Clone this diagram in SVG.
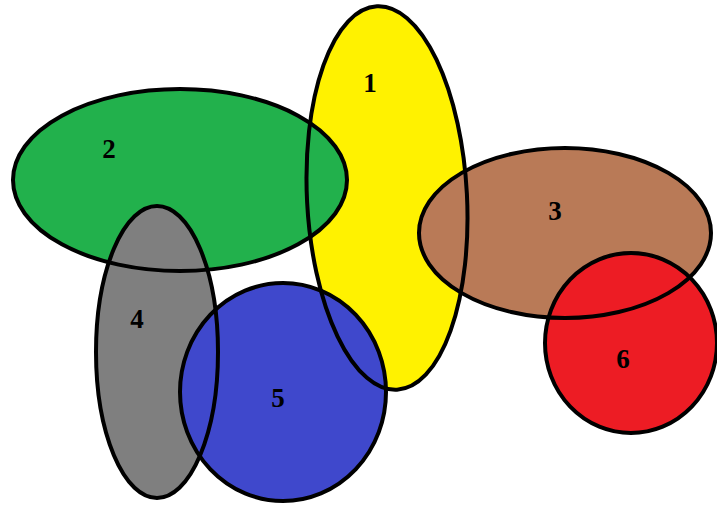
<svg xmlns="http://www.w3.org/2000/svg" width="717" height="506" viewBox="0 0 717 506">
<style>
.o{fill:none;stroke:#000;stroke-width:4}
.t{font-family:"Liberation Serif",serif;font-weight:bold;font-size:27px;fill:#000;text-anchor:middle}
</style>
<rect width="717" height="506" fill="#fff"/>
<g id="fills">
<ellipse cx="387" cy="198" rx="80" ry="192" transform="rotate(-3 387 198)" fill="#fff200"/>
<ellipse cx="180" cy="180" rx="167" ry="91" fill="#22b14c"/>
<ellipse cx="157" cy="352" rx="61" ry="146" fill="#7f7f7f"/>
<ellipse cx="283" cy="392" rx="103" ry="109" fill="#3f48cc"/>
<ellipse cx="565" cy="233" rx="146" ry="85" fill="#b97a57"/>
<ellipse cx="631" cy="343" rx="86" ry="90" fill="#ed1c24"/>
</g>
<g id="node1"><ellipse class="o" cx="387" cy="198" rx="80" ry="192" transform="rotate(-3 387 198)"/><text class="t" x="370" y="92">1</text></g>
<g id="node2"><ellipse class="o" cx="180" cy="180" rx="167" ry="91"/><text class="t" x="109" y="158">2</text></g>
<g id="node4"><ellipse class="o" cx="157" cy="352" rx="61" ry="146"/><text class="t" x="137" y="328">4</text></g>
<g id="node5"><ellipse class="o" cx="283" cy="392" rx="103" ry="109"/><text class="t" x="278" y="407">5</text></g>
<g id="node3"><ellipse class="o" cx="565" cy="233" rx="146" ry="85"/><text class="t" x="555" y="220">3</text></g>
<g id="node6"><ellipse class="o" cx="631" cy="343" rx="86" ry="90"/><text class="t" x="623" y="368">6</text></g>
<g id="connectors"></g>
</svg>
